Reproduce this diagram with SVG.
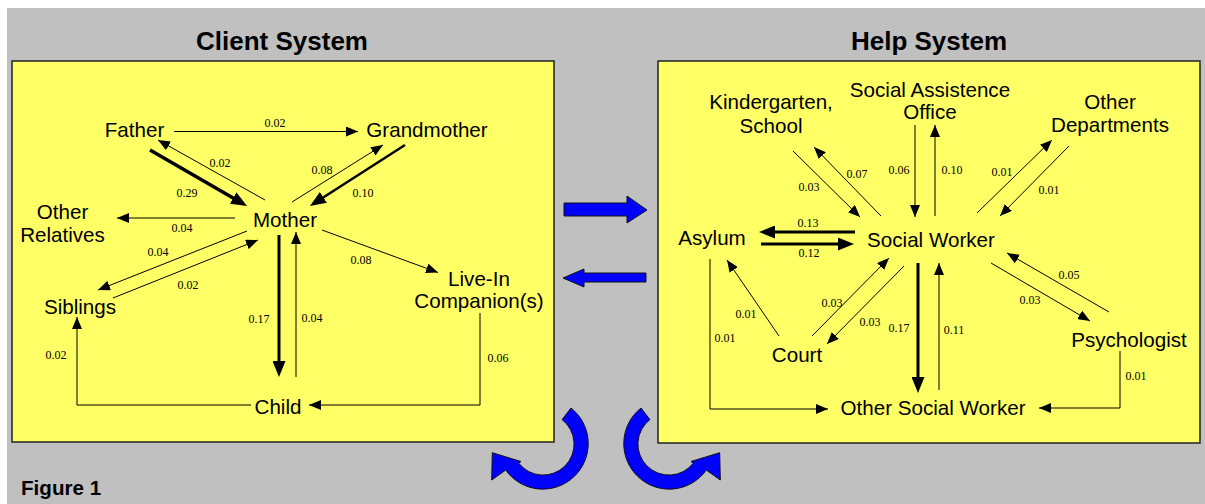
<svg xmlns="http://www.w3.org/2000/svg" width="1205" height="504" viewBox="0 0 1205 504">
  <style>
    .panel { fill: #FFFF66; stroke: #222; stroke-width: 1.5; }
    .title { font-family: "Liberation Sans", Arial, sans-serif; font-size: 26px; font-weight: bold; text-anchor: middle; fill: #000; }
    .node { font-family: "Liberation Sans", Arial, sans-serif; font-size: 20.6px; text-anchor: middle; fill: #000; }
    .lbl { font-family: "Liberation Serif", "Times New Roman", serif; font-size: 12px; text-anchor: middle; fill: #000; }
    .e { fill: none; stroke: #000; stroke-width: 1; marker-end: url(#ah); }
    .e2 { fill: none; stroke: #000; stroke-width: 2.5; marker-end: url(#ahBig); }
    .e3 { fill: none; stroke: #000; stroke-width: 3; marker-end: url(#ahBig); }
    .e4 { fill: none; stroke: #000; stroke-width: 3.5; marker-end: url(#ahBig); }
    .blue { fill: #0000FF; stroke: #111; stroke-width: 1; stroke-linejoin: miter; }
  </style>
  <defs>
    <!-- thin arrowhead: tip sits on the path end -->
    <marker id="ah" markerUnits="userSpaceOnUse" markerWidth="12" markerHeight="10" refX="12" refY="5" orient="auto">
      <path d="M0,0 L12,5 L0,10 Z" fill="#000"/>
    </marker>
    <!-- heavy arrowhead: tip extends 6px beyond the path end -->
    <marker id="ahBig" markerUnits="userSpaceOnUse" markerWidth="16" markerHeight="13" refX="10" refY="6.5" orient="auto">
      <path d="M0,0 L16,6.5 L0,13 Z" fill="#000"/>
    </marker>
    <!-- curved block arrow (left one; right one is its mirror image) -->
    <path id="curl" d="M571,408 A45.5,45.5 0 1 1 505.7,470.1 L491.7,480 L492.3,452.7 L521,461.5 L518.6,463.1 A31,31 0 1 0 562.1,419.6 Z"/>
  </defs>

  <!-- background -->
  <rect x="7" y="8" width="1198" height="496" fill="#C0C0C0"/>

  <!-- panels -->
  <rect class="panel" x="12" y="61" width="542" height="381"/>
  <rect class="panel" x="658" y="61" width="542" height="382"/>

  <text class="title" x="282" y="50">Client System</text>
  <text class="title" x="929" y="50">Help System</text>
  <text x="21" y="495" font-family="Liberation Sans, Arial, sans-serif" font-size="20.6" font-weight="bold">Figure 1</text>

  <!-- block arrows between the systems -->
  <g id="exchange">
    <polygon class="blue" points="564,203 627,203 627,196 647,210 627,223 627,216 564,216"/>
    <polygon class="blue" points="646,273 584,273 584,269 563,278 584,287 584,282 646,282"/>
    <use href="#curl" class="blue"/>
    <use href="#curl" class="blue" transform="translate(1212,0) scale(-1,1)"/>
  </g>

  <!-- connectors -->
  <g id="connectors">
    <!-- client system -->
    <path class="e" d="M174,131.5 H358"/>
    <path class="e" d="M265,200 L158,140"/>
    <path class="e4" d="M150,150 L241.8,203"/>
    <path class="e" d="M235,218 H117"/>
    <path class="e" d="M247,231 L98,290"/>
    <path class="e" d="M113,298 L258,240"/>
    <path class="e3" d="M279,235 V371"/>
    <path class="e" d="M296,377 V232"/>
    <path class="e" d="M292,202 L383,145"/>
    <path class="e2" d="M405,145 L315,202.8"/>
    <path class="e" d="M322,230 L438,272.5"/>
    <path class="e" d="M480,313 V405 H309"/>
    <path class="e" d="M251,405 H77 V317"/>
    <!-- help system -->
    <path class="e" d="M793,151 L860,217"/>
    <path class="e" d="M881,216 L814,147"/>
    <path class="e" d="M915,125 V217"/>
    <path class="e" d="M935,216 V125"/>
    <path class="e" d="M977,213 L1052,140"/>
    <path class="e" d="M1069,146 L1000,216"/>
    <path class="e3" d="M855,232 H765"/>
    <path class="e3" d="M761,244 H848"/>
    <path class="e" d="M710,259 V409 H828"/>
    <path class="e" d="M779,336 L727,260"/>
    <path class="e" d="M812,336 L889,258"/>
    <path class="e" d="M904,266 L827,344"/>
    <path class="e3" d="M918,263 V387"/>
    <path class="e" d="M939,390 V263"/>
    <path class="e" d="M991,263 L1090,321"/>
    <path class="e" d="M1109,312 L1007,253"/>
    <path class="e" d="M1120,351 V408 H1039"/>
  </g>

  <!-- connector weights -->
  <g id="weights">
    <text class="lbl" x="275" y="127">0.02</text>
    <text class="lbl" x="220" y="167">0.02</text>
    <text class="lbl" x="187" y="197">0.29</text>
    <text class="lbl" x="182" y="232">0.04</text>
    <text class="lbl" x="158" y="256">0.04</text>
    <text class="lbl" x="188" y="289">0.02</text>
    <text class="lbl" x="259" y="323">0.17</text>
    <text class="lbl" x="312" y="322">0.04</text>
    <text class="lbl" x="322" y="174">0.08</text>
    <text class="lbl" x="363" y="197">0.10</text>
    <text class="lbl" x="361" y="264">0.08</text>
    <text class="lbl" x="498" y="362">0.06</text>
    <text class="lbl" x="56" y="359">0.02</text>

    <text class="lbl" x="809" y="191">0.03</text>
    <text class="lbl" x="857" y="178">0.07</text>
    <text class="lbl" x="899" y="174">0.06</text>
    <text class="lbl" x="952" y="174">0.10</text>
    <text class="lbl" x="1002" y="176">0.01</text>
    <text class="lbl" x="1049" y="194">0.01</text>
    <text class="lbl" x="808" y="227">0.13</text>
    <text class="lbl" x="809" y="257">0.12</text>
    <text class="lbl" x="725" y="342">0.01</text>
    <text class="lbl" x="746" y="318">0.01</text>
    <text class="lbl" x="832" y="307">0.03</text>
    <text class="lbl" x="870" y="326">0.03</text>
    <text class="lbl" x="899" y="332">0.17</text>
    <text class="lbl" x="954" y="334">0.11</text>
    <text class="lbl" x="1030" y="304">0.03</text>
    <text class="lbl" x="1069" y="279">0.05</text>
    <text class="lbl" x="1136" y="380">0.01</text>
  </g>

  <!-- client system nodes -->
  <g id="father"><text class="node" x="134.5" y="137">Father</text></g>
  <g id="grandmother"><text class="node" x="427" y="137">Grandmother</text></g>
  <g id="mother"><text class="node" x="285" y="227">Mother</text></g>
  <g id="other-relatives"><text class="node" x="62.5" y="219">Other</text><text class="node" x="62.5" y="242">Relatives</text></g>
  <g id="siblings"><text class="node" x="80" y="314">Siblings</text></g>
  <g id="live-in"><text class="node" x="479" y="286">Live-In</text><text class="node" x="479" y="308">Companion(s)</text></g>
  <g id="child"><text class="node" x="278" y="414">Child</text></g>

  <!-- help system nodes -->
  <g id="kindergarten"><text class="node" x="771" y="109">Kindergarten,</text><text class="node" x="771" y="133">School</text></g>
  <g id="social-office"><text class="node" x="930" y="97">Social Assistence</text><text class="node" x="930" y="119">Office</text></g>
  <g id="other-departments"><text class="node" x="1110" y="109">Other</text><text class="node" x="1110" y="132">Departments</text></g>
  <g id="asylum"><text class="node" x="712" y="245">Asylum</text></g>
  <g id="social-worker"><text class="node" x="931" y="247">Social Worker</text></g>
  <g id="court"><text class="node" x="797" y="362">Court</text></g>
  <g id="psychologist"><text class="node" x="1129" y="347">Psychologist</text></g>
  <g id="other-social-worker"><text class="node" x="933" y="415">Other Social Worker</text></g>
</svg>
